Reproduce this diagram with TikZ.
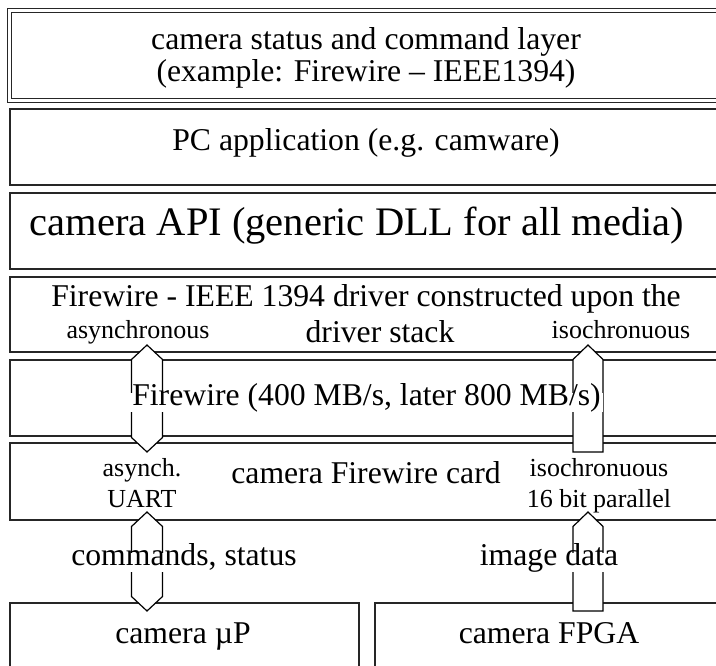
\documentclass[tikz,border=0pt]{standalone}
\usepackage{fontspec}
\setmainfont{Liberation Serif}
\usetikzlibrary{calc}
\tikzset{
  layer/.style={draw=black!85, line width=1.2pt, minimum width=712pt, minimum height=76pt, inner sep=0pt},
  bigtext/.style={font=\fontsize{31.7}{32}\selectfont, inner sep=0pt, align=center},
  smalltext/.style={font=\fontsize{26}{31}\selectfont, inner sep=0pt, align=center},
  gaptext/.style={bigtext, fill=white, inner xsep=2pt, text height=0.75em, text depth=0.25em, inner ysep=4.5pt},
  pipe/.style={draw=black, line width=1.2pt, fill=white, line join=miter}
}
\newcommand{\twowayarrow}[2]{\filldraw[pipe] (#1) -- ($(#1)+(15.5,14.5)$) -- ($(#2)+(15.5,-14.5)$) -- (#2) -- ($(#2)+(-15.5,-14.5)$) -- ($(#1)+(-15.5,14.5)$) -- cycle;}
\newcommand{\onewayarrow}[2]{\filldraw[pipe] (#1) -- ($(#1)+(15,14.5)$) -- ($(#2)+(15,0)$) -- ($(#2)+(-15,0)$) -- ($(#1)+(-15,14.5)$) -- cycle;}
\begin{document}
\begin{tikzpicture}[x=1pt,y=-1pt]
\useasboundingbox (0,0) rectangle (716,666);
\clip (0,0) rectangle (716,666);

\node[layer, double, double distance=3pt, line width=1.1pt, minimum height=90pt, minimum width=713pt] (statuslayer) at (366,55.5) {};
\node[layer] (pcapp) at (366,147) {};
\node[layer] (cameraapi) at (366,231) {};
\node[layer, minimum height=75pt] (fwdriver) at (366,314.5) {};
\node[layer] (fwbus) at (366,398) {};
\node[layer, minimum height=77pt] (fwcard) at (366,481.5) {};
\node[layer, minimum width=349pt, minimum height=100pt] (campu) at (184.5,653) {};
\node[layer, minimum width=347pt, minimum height=100pt] (camfpga) at (548.5,653) {};

\node[bigtext] (statustext) at (366,58) {camera status and command layer\\(example: Firewire – IEEE1394)};
\node[bigtext] (pctext) at (366,143) {PC application (e.g. camware)};
\node[bigtext, font=\fontsize{40.5}{41}\selectfont] (apitext) at (357,226) {camera API (generic DLL for all media)};
\node[bigtext, anchor=base] (drvtext) at (366,306) {Firewire - IEEE 1394 driver constructed upon the};
\node[bigtext, anchor=base] (drvtext2) at (380,342) {driver stack};
\node[smalltext, anchor=base] (asynctop) at (138,338) {asynchronous};
\node[smalltext, anchor=base] (isotop) at (621,338) {isochronuous};

\coordinate (a1top) at (147,345);
\coordinate (a1bot) at (147,452);
\coordinate (a2top) at (588,345);
\coordinate (a2bot) at (588,452);
\coordinate (a3top) at (147,512);
\coordinate (a3bot) at (147,611);
\coordinate (a4top) at (588,512);
\coordinate (a4bot) at (588,611);
\twowayarrow{a1top}{a1bot}
\onewayarrow{a2top}{a2bot}
\twowayarrow{a3top}{a3bot}
\onewayarrow{a4top}{a4bot}

\node[gaptext] (bustext) at (366.5,402.5) {Firewire (400 MB/s, later 800 MB/s)};
\node[bigtext, anchor=base] (cardtext) at (366,483) {camera Firewire card};
\node[smalltext, anchor=base] (asynccard) at (142,507) {asynch.\\UART};
\node[smalltext, anchor=base] (isocard) at (599,507) {isochronuous\\16 bit parallel};
\node[gaptext] (cmdtext) at (184,562.5) {commands, status};
\node[gaptext] (imgtext) at (549,562.5) {image data};
\node[bigtext, anchor=base] (putext) at (183,643) {camera µP};
\node[bigtext, anchor=base] (fpgatext) at (549,643) {camera FPGA};
\end{tikzpicture}
\end{document}
